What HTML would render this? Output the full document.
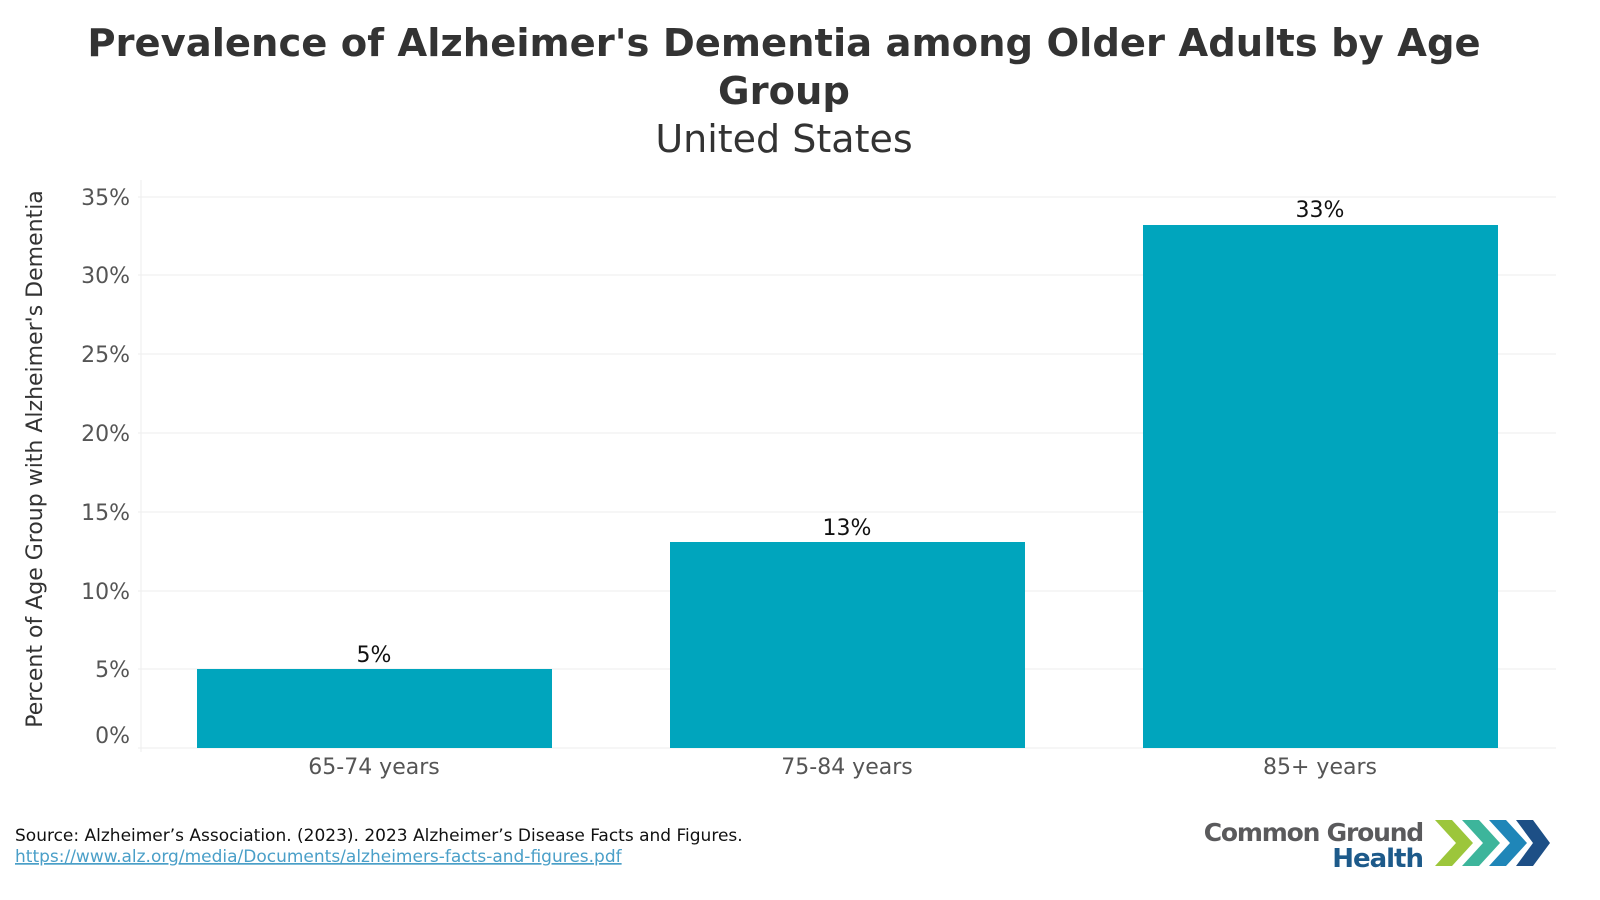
<!DOCTYPE html>
<html><head><meta charset="utf-8"><style>
body{margin:0;width:1600px;height:900px;background:#fff;font-family:"DejaVu Sans","Liberation Sans",sans-serif;overflow:hidden;position:relative}
</style></head><body>
<svg width="1600" height="900" style="position:absolute;left:0;top:0" font-family="DejaVu Sans, Liberation Sans, sans-serif">
<text x="784" y="56" text-anchor="middle" font-size="38.5" font-weight="bold" fill="#333">Prevalence of Alzheimer's Dementia among Older Adults by Age</text>
<text x="784" y="104" text-anchor="middle" font-size="38.5" font-weight="bold" fill="#333">Group</text>
<text x="784" y="152" text-anchor="middle" font-size="38" fill="#333">United States</text>
<g stroke="#eee" stroke-width="1">
<line x1="138" x2="1556" y1="197" y2="197"/><line x1="138" x2="1556" y1="275" y2="275"/>
<line x1="138" x2="1556" y1="354" y2="354"/><line x1="138" x2="1556" y1="433" y2="433"/>
<line x1="138" x2="1556" y1="512" y2="512"/><line x1="138" x2="1556" y1="591" y2="591"/>
<line x1="138" x2="1556" y1="669" y2="669"/><line x1="138" x2="1556" y1="748" y2="748"/>
<line x1="141" x2="141" y1="180" y2="752"/>
</g>
<g font-size="22" fill="#555" text-anchor="end">
<text x="130" y="205">35%</text><text x="130" y="283">30%</text><text x="130" y="362">25%</text>
<text x="130" y="441">20%</text><text x="130" y="520">15%</text><text x="130" y="599">10%</text>
<text x="130" y="677">5%</text><text x="130" y="743">0%</text>
</g>
<text transform="translate(42,459) rotate(-90)" text-anchor="middle" font-size="22" fill="#333">Percent of Age Group with Alzheimer's Dementia</text>
<g fill="#00a5bd">
<rect x="197" y="669" width="355" height="79"/>
<rect x="670" y="542" width="355" height="206"/>
<rect x="1143" y="225" width="355" height="523"/>
</g>
<g font-size="22" fill="#111" text-anchor="middle">
<text x="374" y="662">5%</text><text x="847" y="535">13%</text><text x="1320" y="217">33%</text>
</g>
<g font-size="22" fill="#555" text-anchor="middle">
<text x="374" y="774">65-74 years</text><text x="847" y="774">75-84 years</text><text x="1320" y="774">85+ years</text>
</g>
<text x="15" y="841" font-size="17" fill="#111">Source: Alzheimer’s Association. (2023). 2023 Alzheimer’s Disease Facts and Figures.</text>
<text x="15" y="862" font-size="17" fill="#4a9fc8" text-decoration="underline">https://www.alz.org/media/Documents/alzheimers-facts-and-figures.pdf</text>
<text x="1423" y="841" text-anchor="end" font-size="25" font-weight="bold" fill="#5a5a5c" letter-spacing="-1.2">Common Ground</text>
<text x="1423" y="867" text-anchor="end" font-size="26" font-weight="bold" fill="#1d5a8a" letter-spacing="-1">Health</text>
<g>
<polygon points="1435,820 1452,820 1473,843 1452,866 1435,866 1456,843" fill="#9cc63b"/>
<polygon points="1462,820 1479,820 1500,843 1479,866 1462,866 1483,843" fill="#3db59b"/>
<polygon points="1489,820 1506,820 1527,843 1506,866 1489,866 1510,843" fill="#1f86b8"/>
<polygon points="1516,820 1533,820 1550,843 1533,866 1516,866 1533,843" fill="#1d4f86"/>
</g>
</svg>
</body></html>
